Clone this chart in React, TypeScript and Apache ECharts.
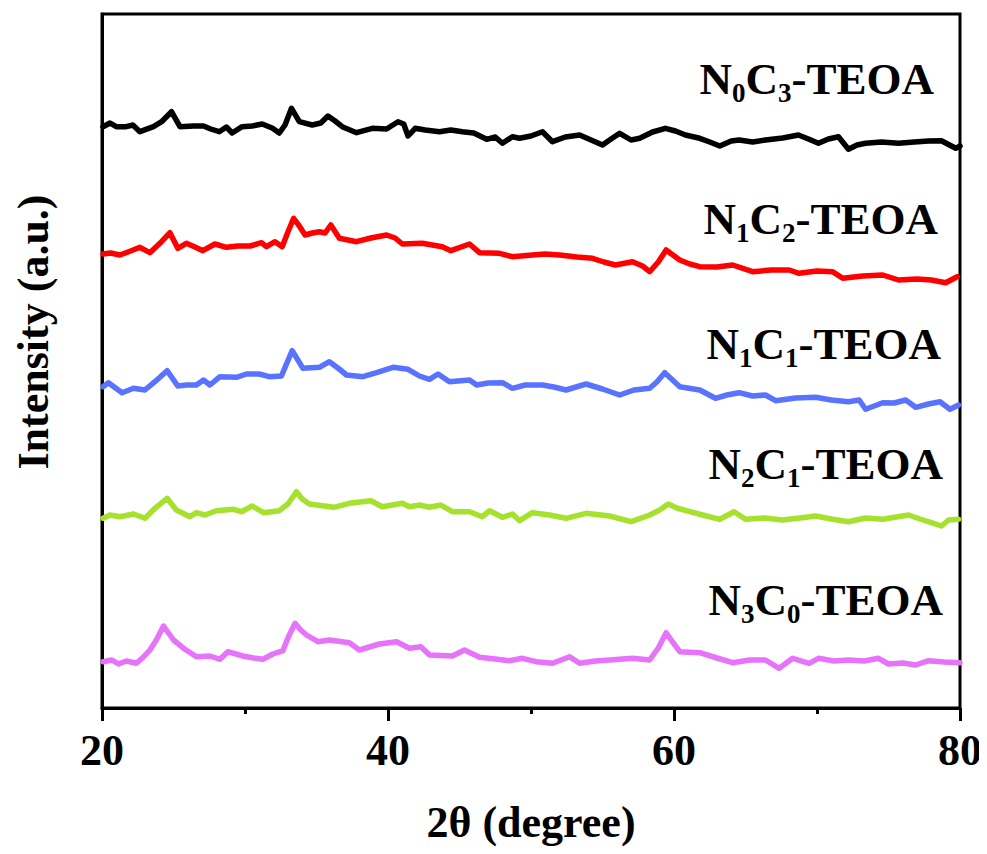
import { useEffect, useRef } from 'react';
import * as echarts from 'echarts';

// 2θ (degree) and intensity (a.u., curves already offset as plotted)
const n0c3X = [20.07, 20.56, 21.0, 21.7, 22.16, 22.65, 23.6, 24.17, 24.86, 25.45, 26.4, 27.1, 27.6, 28.2, 28.7, 29.1, 29.8, 30.5, 31.2, 31.9, 32.4, 32.8, 33.25, 33.8, 34.7, 35.3, 35.8, 36.3, 36.8, 37.8, 38.9, 39.9, 40.7, 41.1, 41.4, 41.9, 42.6, 43.6, 44.4, 45.2, 46.0, 46.9, 47.5, 48.0, 48.7, 49.2, 50.0, 50.8, 51.5, 52.4, 53.4, 54.2, 55.0, 55.6, 56.2, 57.0, 57.6, 58.5, 59.4, 60.1, 60.8, 61.8, 62.5, 63.2, 64.0, 64.55, 65.5, 66.4, 67.6, 68.7, 69.4, 70.1, 70.8, 71.5, 72.2, 72.8, 73.4, 74.5, 75.7, 76.8, 77.8, 78.7, 79.7, 80.0];
const n0c3Y = [581.3, 585, 581.3, 581.3, 583, 576.3, 581.3, 586.3, 596.3, 581.3, 582, 582, 579, 576.3, 581, 575, 581.3, 582, 584, 580, 575, 583, 599.7, 586.3, 583, 585, 592, 587, 581.3, 575.3, 579.7, 579, 586.3, 584, 572, 579.7, 578, 576.3, 578, 576.3, 575, 568.7, 571, 564.7, 571.3, 569.7, 572, 576.3, 566.3, 571, 573, 568, 563, 569, 574.7, 568, 569.7, 576, 579.7, 577, 573, 569.7, 566, 562, 567, 568, 566, 568, 570, 573, 569, 564.7, 569, 571.3, 558.7, 563, 564.7, 566, 564.7, 566, 567, 567.3, 559.7, 562];

const n1c2X = [20.07, 20.6, 21.25, 22.0, 22.65, 23.35, 24.05, 24.75, 25.3, 25.9, 26.5, 27.05, 27.9, 28.7, 29.5, 30.35, 31.15, 31.5, 32.1, 32.6, 33.0, 33.4, 33.8, 34.2, 34.7, 35.2, 35.6, 36.0, 36.6, 37.2, 37.8, 38.8, 39.9, 40.5, 41.0, 42.4, 43.8, 44.4, 45.7, 46.4, 47.8, 48.7, 50.1, 51.0, 52.0, 53.2, 54.3, 55.1, 55.9, 57.1, 57.8, 58.3, 58.9, 59.45, 60.4, 61.1, 61.8, 63.0, 64.1, 65.5, 66.8, 68.05, 68.75, 70.0, 71.1, 71.8, 73.2, 74.6, 75.7, 77.0, 78.0, 79.0, 79.8];
const n1c2Y = [454, 455, 453, 457, 460.7, 455.3, 464.7, 475.3, 459.7, 464.7, 461, 457.3, 464, 460.7, 462, 462, 465.3, 461.3, 466.3, 461.3, 476, 489.7, 482, 473, 475, 476.3, 475, 483, 469.7, 468, 466.3, 470, 473, 470, 464, 464.7, 461.3, 457.3, 464, 455.3, 454.7, 451.3, 453, 454, 453, 451, 449.7, 446, 443, 446.3, 442, 436.3, 446, 458, 448, 444, 441.3, 441, 443, 436.3, 438, 438, 434.7, 437, 436.3, 429.7, 432, 433, 428, 429, 428, 425.3, 431.3];

const n1c1X = [20.07, 20.45, 21.4, 22.2, 23.0, 23.7, 24.55, 25.3, 25.9, 26.6, 27.1, 27.55, 28.25, 29.4, 30.1, 31.0, 31.7, 32.55, 32.9, 33.3, 33.7, 34.05, 35.2, 35.9, 36.5, 37.1, 38.25, 39.2, 40.35, 41.4, 42.2, 42.9, 43.5, 44.3, 45.7, 46.2, 47.0, 48.0, 48.7, 49.6, 50.8, 51.6, 52.45, 53.85, 55.0, 56.2, 57.2, 58.3, 58.8, 59.35, 59.9, 60.4, 61.8, 62.9, 63.7, 64.55, 65.5, 66.4, 67.1, 68.5, 69.9, 71.0, 72.2, 72.95, 73.4, 74.6, 75.4, 76.2, 76.9, 77.8, 78.6, 79.3, 79.9];
const n1c1Y = [321.3, 325.3, 315.3, 319.7, 318, 326.3, 337.3, 322, 323, 323, 328, 323, 331.3, 330.7, 334, 334, 331.3, 332, 344, 357.3, 348, 339.7, 340.7, 346.3, 340, 333, 331.3, 335.3, 340.7, 338.7, 332, 328.7, 334, 326.3, 328, 323, 325, 325.3, 319.7, 323, 323, 321, 318, 324, 319, 313, 318, 319.7, 326, 335.3, 328, 321.3, 318, 309.7, 313, 315.3, 312, 313, 307.3, 310, 310.7, 308, 306.3, 308, 298.7, 305.3, 305, 308, 300.7, 304, 306.3, 298.7, 303];

const n2c1X = [20.07, 20.56, 21.25, 22.2, 23.0, 23.7, 24.55, 25.2, 26.15, 26.6, 27.2, 28.0, 29.2, 29.75, 30.5, 31.3, 32.4, 33.0, 33.6, 34.0, 34.5, 36.2, 37.3, 38.8, 39.6, 41.0, 41.5, 42.2, 42.9, 43.7, 44.5, 45.7, 46.6, 47.1, 48.0, 48.7, 49.2, 50.1, 51.3, 52.45, 53.85, 55.5, 57.0, 58.3, 59.0, 59.6, 60.2, 60.85, 62.0, 63.2, 64.2, 65.0, 66.3, 67.6, 68.8, 69.9, 71.0, 72.2, 73.4, 74.6, 76.4, 77.2, 78.0, 78.7, 79.2, 79.9];
const n2c1Y = [189.7, 193, 191.3, 194, 189.7, 199.7, 209.7, 198, 191.3, 195.3, 193, 197.3, 198.7, 196.3, 202, 195.3, 197.3, 204, 216.3, 209, 204, 200.7, 204.7, 207.3, 201.3, 204.7, 201.3, 203, 200.7, 203, 196.3, 196.3, 191.3, 197.3, 190.7, 194, 187.3, 195.3, 193, 189.7, 194.7, 192, 186.3, 193, 198, 204, 200, 197.3, 193, 188.7, 196.3, 188.7, 190, 188, 190, 192, 189, 186.3, 190, 188.7, 193, 189, 185.3, 182, 188, 188.7];

const n3c0X = [20.07, 20.7, 21.15, 21.7, 22.4, 22.9, 23.35, 23.8, 24.3, 24.6, 25.0, 25.8, 26.6, 27.55, 28.25, 28.8, 29.85, 30.6, 31.25, 31.95, 32.65, 33.0, 33.5, 33.9, 34.3, 35.1, 35.9, 37.3, 38.0, 39.4, 40.6, 41.5, 42.3, 42.9, 44.5, 45.35, 46.4, 47.5, 48.5, 49.4, 50.35, 51.5, 52.7, 53.4, 54.5, 55.5, 57.1, 58.3, 58.9, 59.45, 59.9, 60.4, 61.8, 63.0, 64.1, 65.3, 66.4, 67.35, 68.3, 69.45, 70.1, 71.2, 72.2, 73.3, 74.3, 75.0, 76.0, 76.9, 77.8, 78.9, 80.0];
const n3c0Y = [46.3, 48, 44, 47, 44.7, 51, 58, 68, 82, 76, 68, 58.7, 51.3, 52, 48.7, 56.3, 52, 50, 48.7, 54, 57.3, 70, 84.7, 78, 73, 66.3, 68, 65.3, 58, 64, 66.3, 59.7, 61.3, 53, 52, 58, 50.7, 49, 47.3, 49.7, 46.3, 44.7, 51.3, 44.7, 47, 48, 49.7, 48, 60, 75.3, 66, 56.3, 55.3, 50, 45.3, 48, 48, 39.7, 49.7, 44.7, 49.7, 47, 48, 47, 49.7, 44, 45, 43, 47.3, 46, 45.3];

const sampleNames = ['N0C3-TEOA', 'N1C2-TEOA', 'N1C1-TEOA', 'N2C1-TEOA', 'N3C0-TEOA'];
const subscripts = [['0', '3'], ['1', '2'], ['1', '1'], ['2', '1'], ['3', '0']];
const xData = [n0c3X, n1c2X, n1c1X, n2c1X, n3c0X];
const yData = [n0c3Y, n1c2Y, n1c1Y, n2c1Y, n3c0Y];
const xTickValues = [20, 40, 60, 80];

const colors = ['#000000', '#ff0000', '#5a73ff', '#a5e12d', '#e673fa'];
const labelPos = [
  { x: 934, y: 81 },
  { x: 938, y: 221 },
  { x: 941, y: 346 },
  { x: 943, y: 466 },
  { x: 943, y: 602 },
];

const FONT = "'Times New Roman', 'Liberation Serif', serif";

export default function App() {
  const ref = useRef<HTMLDivElement>(null);
  useEffect(() => {
    if (!ref.current) return;
    const chart = echarts.init(ref.current, undefined, { renderer: 'svg' });
    const series = sampleNames.map((name, i) => ({
      name,
      type: 'line',
      data: xData[i].map((x, j) => [x, yData[i][j]]),
      showSymbol: false,
      symbol: 'none',
      lineStyle: { color: colors[i], width: 5.5, join: 'round', cap: 'round' },
      itemStyle: { color: colors[i] },
      z: 2,
    }));
    const rich = {
      b: { fontSize: 45, fontWeight: 'bold', fontFamily: FONT, fill: '#000', lineHeight: 50, verticalAlign: 'top' },
      s: { fontSize: 27, fontWeight: 'bold', fontFamily: FONT, fill: '#000', lineHeight: 24, verticalAlign: 'bottom' },
    };
    const labels = sampleNames.map((name, i) => ({
      type: 'text',
      x: labelPos[i].x,
      y: labelPos[i].y,
      z: 10,
      style: {
        text: `{b|N}{s|${subscripts[i][0]}}{b|C}{s|${subscripts[i][1]}}{b|-TEOA}`,
        align: 'right',
        verticalAlign: 'middle',
        rich,
      },
    }));
    chart.setOption({
      animation: false,
      backgroundColor: '#ffffff',
      grid: { left: 102, right: 27, top: 14, bottom: 146, show: true, borderColor: '#000', borderWidth: 3, backgroundColor: 'transparent' },
      xAxis: {
        type: 'value',
        min: 20,
        max: 80,
        interval: 20,
        name: '2θ (degree)',
        nameLocation: 'middle',
        nameGap: 92,
        nameTextStyle: { fontSize: 44, fontWeight: 'bold', fontFamily: FONT, color: '#000' },
        axisLine: { show: true, lineStyle: { color: '#000', width: 3 } },
        axisTick: { show: true, inside: false, length: 13, lineStyle: { color: '#000', width: 3 } },
        minorTick: { show: true, splitNumber: 2, length: 6, lineStyle: { color: '#000', width: 3 } },
        axisLabel: {
          fontSize: 44,
          fontWeight: 'bold',
          fontFamily: FONT,
          color: '#000',
          margin: 20,
          formatter: (v: number) => (xTickValues.includes(v) ? String(v) : ''),
        },
        splitLine: { show: false },
      },
      yAxis: {
        type: 'value',
        min: 0,
        max: 694,
        axisLine: { show: true, lineStyle: { color: '#000', width: 3 } },
        axisTick: { show: false },
        axisLabel: { show: false },
        splitLine: { show: false },
      },
      series,
      graphic: [
        ...labels,
        {
          type: 'text',
          x: 33,
          y: 332,
          rotation: Math.PI / 2,
          style: {
            text: 'Intensity (a.u.)',
            align: 'center',
            verticalAlign: 'middle',
            fontSize: 44,
            fontWeight: 'bold',
            fontFamily: FONT,
            fill: '#000',
          },
        },
      ],
    });
    return () => chart.dispose();
  }, []);
  return <div ref={ref} style={{ width: 987, height: 854, margin: -8 }} />;
}
